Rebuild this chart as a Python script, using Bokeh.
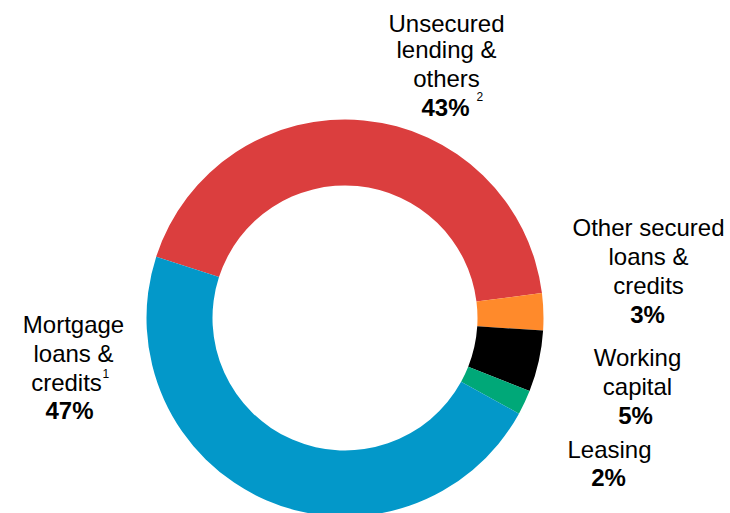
import math
from bokeh.plotting import figure
from bokeh.models import Range1d, ColumnDataSource
from bokeh.core.properties import value
from bokeh.embed import file_html
from bokeh.resources import INLINE

# ---- data ----
categories = ["Unsecured lending & others", "Other secured loans & credits",
              "Working capital", "Leasing", "Mortgage loans & credits"]
values = [43, 3, 5, 2, 47]
label_lines = [["Unsecured", "lending &", "others"],
               ["Other secured", "loans &", "credits"],
               ["Working", "capital"],
               ["Leasing"],
               ["Mortgage", "loans &", "credits"]]
footnotes = ["2", "", "", "", "1"]

# ---- style / layout ----
colors = ["#DB3E3E", "#FF8A2B", "#000000", "#00A878", "#0398C9"]
W, H = 730, 513
PAGE_H = 513
CX, CY = 344.5, 317.5          # donut centre (image pixel coords)
R_OUT, R_IN = 198.5, 132.5
START_DEG = 162.0              # where first slice starts, going clockwise
FONT = "Liberation Sans"
FS = "24px"
DY = -8                        # baseline correction

# label anchors (image px): line centre xs, line baselines, pct centre x, pct baseline
label_layout = [
    dict(xs=[446, 446, 446], ys=[31, 57, 86], pcx=445, py=115, fn=(476, 104)),
    dict(xs=[648, 648, 648], ys=[235, 264, 293], pcx=647, py=322, fn=None),
    dict(xs=[637, 637], ys=[365, 394], pcx=635, py=423, fn=None),
    dict(xs=[609], ys=[457], pcx=608, py=485, fn=None),
    dict(xs=[73, 73, 66], ys=[332, 361, 390], pcx=69, py=418, fn=(102, 381)),
]

def fy(y):
    return PAGE_H - (y + DY)

p = figure(width=W, height=H, output_backend="svg", toolbar_location=None,
           x_range=Range1d(0, W), y_range=Range1d(PAGE_H - H, PAGE_H),
           x_axis_location=None, y_axis_location=None, min_border=0)
p.outline_line_color = None
p.xgrid.visible = False
p.ygrid.visible = False
p.background_fill_color = "white"
p.border_fill_color = "white"

total = float(sum(values))
starts, ends = [], []
cum = 0.0
for v in values:
    a0 = math.radians(START_DEG - (cum + v) / total * 360.0)
    a1 = math.radians(START_DEG - cum / total * 360.0)
    starts.append(a0)
    ends.append(a1)
    cum += v

src = ColumnDataSource(dict(start=starts, end=ends, color=colors, cat=categories))
p.annular_wedge(x=CX, y=PAGE_H - CY, inner_radius=R_IN, outer_radius=R_OUT,
                start_angle="start", end_angle="end", color="color",
                line_color=None, source=src)

for lines, fn, lay, v in zip(label_lines, footnotes, label_layout, values):
    p.text(x=lay["xs"], y=[fy(y) for y in lay["ys"]], text=lines,
           text_align="center", text_baseline="alphabetic",
           text_font=value(FONT), text_font_size=value(FS), text_color="#000000")
    p.text(x=[lay["pcx"]], y=[fy(lay["py"])], text=[f"{v}%"],
           text_align="center", text_baseline="alphabetic",
           text_font=value(FONT), text_font_size=value(FS), text_font_style="bold",
           text_color="#000000")
    if fn and lay["fn"]:
        fx, fyy = lay["fn"]
        p.text(x=[fx], y=[fy(fyy)], text=[fn], text_align="left",
               text_baseline="alphabetic", text_font=value(FONT),
               text_font_size=value("12px"), text_color="#000000")

open("out.html", "w").write(file_html(p, INLINE))
